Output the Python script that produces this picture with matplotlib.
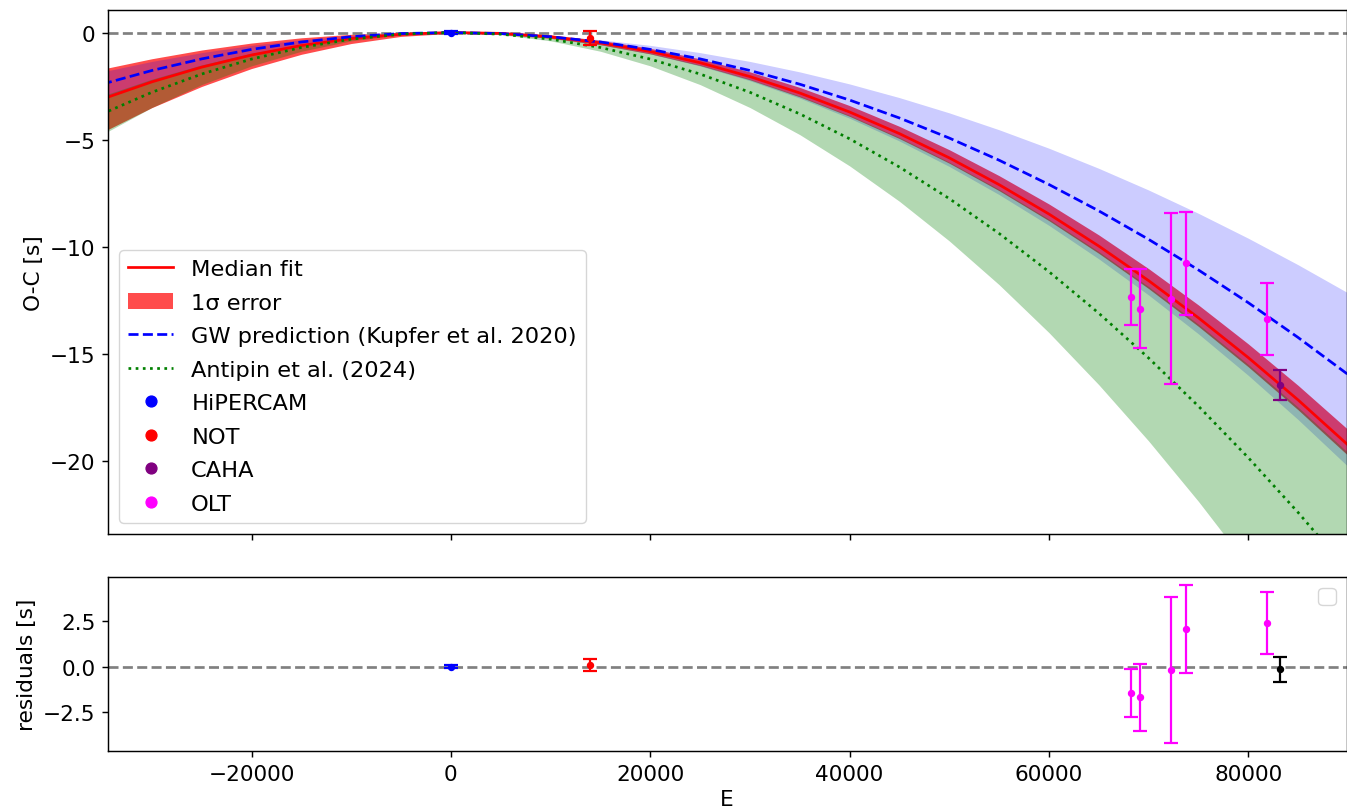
import matplotlib
matplotlib.use('Agg')
import matplotlib.pyplot as plt
from matplotlib.lines import Line2D
from matplotlib.patches import Patch

# ---------------- data ----------------
E_grid = [-35000, -30000, -25000, -20000, -15000, -10000, -5000, 0, 5000, 10000,
          15000, 20000, 25000, 30000, 35000, 40000, 45000, 50000, 55000, 60000,
          65000, 70000, 75000, 80000, 85000, 90000]

median_fit = [-3.111, -2.304, -1.617, -1.051, -0.607, -0.284, -0.081, 0.0, -0.040, -0.201,
              -0.483, -0.886, -1.410, -2.056, -2.822, -3.710, -4.719, -5.849, -7.100, -8.471,
              -9.965, -11.579, -13.314, -15.171, -17.148, -19.246]
median_hi = [-1.711, -1.224, -0.817, -0.491, -0.247, -0.084, 0.009, 0.04, 0.020, -0.111,
             -0.363, -0.736, -1.230, -1.836, -2.562, -3.410, -4.379, -5.469, -6.680, -8.001,
             -9.445, -11.019, -12.714, -14.531, -16.468, -18.526]
median_lo = [-4.661, -3.504, -2.517, -1.681, -1.017, -0.514, -0.181, -0.04, -0.090, -0.271,
             -0.573, -0.996, -1.540, -2.206, -3.002, -3.910, -4.949, -6.099, -7.380, -8.781,
             -10.305, -11.949, -13.714, -15.601, -17.608, -19.736]

gw_pred = [-2.413, -1.773, -1.231, -0.788, -0.443, -0.197, -0.049, 0.0, -0.049, -0.197,
           -0.443, -0.788, -1.231, -1.773, -2.413, -3.152, -3.989, -4.925, -5.959, -7.092,
           -8.323, -9.653, -11.081, -12.608, -14.233, -15.957]
gw_hi = [-1.838, -1.35, -0.938, -0.6, -0.338, -0.15, -0.038, 0.0, -0.038, -0.15,
         -0.338, -0.6, -0.938, -1.35, -1.838, -2.4, -3.038, -3.75, -4.538, -5.4,
         -6.338, -7.35, -8.438, -9.6, -10.838, -12.15]
gw_lo = [-3.063, -2.25, -1.563, -1.0, -0.563, -0.25, -0.063, 0.0, -0.063, -0.25,
         -0.563, -1.0, -1.563, -2.25, -3.063, -4.0, -5.063, -6.25, -7.563, -9.0,
         -10.563, -12.25, -14.063, -16.0, -18.063, -20.25]

antipin = [-3.798, -2.79, -1.938, -1.24, -0.698, -0.31, -0.078, 0.0, -0.078, -0.31,
           -0.698, -1.24, -1.938, -2.79, -3.798, -4.96, -6.278, -7.75, -9.378, -11.16,
           -13.098, -15.19, -17.438, -19.84, -22.398, -25.11]
antipin_hi = [-2.965, -2.178, -1.513, -0.968, -0.545, -0.242, -0.061, 0.0, -0.061, -0.242,
              -0.545, -0.968, -1.513, -2.178, -2.965, -3.872, -4.901, -6.050, -7.321, -8.712,
              -10.225, -11.858, -13.613, -15.488, -17.485, -19.602]
antipin_lo = [-4.765, -3.501, -2.431, -1.556, -0.875, -0.389, -0.097, 0.0, -0.097, -0.389,
              -0.875, -1.556, -2.431, -3.501, -4.765, -6.224, -7.877, -9.725, -11.767, -14.004,
              -16.435, -19.061, -21.881, -24.896, -28.103, -31.509]

hip_E = [0]
hip_oc = [0.0]
hip_err = [0.08]
hip_res = [0.0]

not_E = [14000]
not_oc = [-0.26]
not_err = [0.32]
not_res = [0.09]

caha_E = [83170]
caha_oc = [-16.47]
caha_err = [0.70]
caha_res = [-0.15]

olt_E = [68220, 69090, 72230, 73770, 81830]
olt_oc = [-12.36, -12.88, -12.42, -10.76, -13.38]
olt_err = [1.31, 1.85, 3.98, 2.40, 1.69]
olt_res = [-1.43, -1.68, -0.16, 2.03, 2.39]

legend_labels = ["Median fit", "1σ error", "GW prediction (Kupfer et al. 2020)",
                 "Antipin et al. (2024)", "HiPERCAM", "NOT", "CAHA", "OLT"]

# ---------------- style ----------------
S = 1.3
plt.rcParams.update({
    'font.size': 15.6,
    'lines.linewidth': 1.5 * S,
    'axes.linewidth': 0.8 * S,
    'xtick.major.size': 3.5 * S,
    'ytick.major.size': 3.5 * S,
    'xtick.major.width': 0.8 * S,
    'ytick.major.width': 0.8 * S,
    'xtick.major.pad': 3.5 * S,
    'ytick.major.pad': 3.5 * S,
})

W, H = 1347, 812
fig = plt.figure(figsize=(W / 100, H / 100), dpi=100)
ax1 = fig.add_axes([108 / W, (H - 535) / H, (1346.5 - 108) / W, 524 / H])
ax2 = fig.add_axes([108 / W, (H - 752) / H, (1346.5 - 108) / W, 174 / H], sharex=ax1)

# bands
ax1.fill_between(E_grid, median_lo, median_hi, color='red', alpha=0.7, lw=0, zorder=1)
ax1.fill_between(E_grid, gw_lo, gw_hi, color='blue', alpha=0.2, lw=0, zorder=1.1)
ax1.fill_between(E_grid, antipin_lo, antipin_hi, color='green', alpha=0.3, lw=0, zorder=1.2)

ax1.axhline(0, color='gray', ls='--', lw=1.5 * S, zorder=1.5)
ax1.plot(E_grid, median_fit, color='red', zorder=2)
ax1.plot(E_grid, gw_pred, color='blue', ls='--', zorder=2.1)
ax1.plot(E_grid, antipin, color='green', ls=':', zorder=2.2)

eb = dict(fmt='o', ms=4.3, capsize=4.8, elinewidth=1.6, capthick=1.6, zorder=3)
ax1.errorbar(hip_E, hip_oc, yerr=hip_err, color='blue', **eb)
ax1.errorbar(not_E, not_oc, yerr=not_err, color='red', **eb)
ax1.errorbar(caha_E, caha_oc, yerr=caha_err, color='purple', **eb)
ax1.errorbar(olt_E, olt_oc, yerr=olt_err, color='magenta', **eb)

handles = [
    Line2D([], [], color='red'),
    Patch(facecolor='red', alpha=0.7, lw=0),
    Line2D([], [], color='blue', ls='--'),
    Line2D([], [], color='green', ls=':'),
    Line2D([], [], color='blue', marker='o', ls='', ms=7.8),
    Line2D([], [], color='red', marker='o', ls='', ms=7.8),
    Line2D([], [], color='purple', marker='o', ls='', ms=7.8),
    Line2D([], [], color='magenta', marker='o', ls='', ms=7.8),
]
ax1.legend(handles, legend_labels, loc='lower left', fontsize=16.2, labelspacing=0.6)
ax1.set_ylabel('O-C [s]')
ax1.set_ylim(-23.4, 1.05)
ax1.set_xlim(-34400, 89850)
ax1.set_yticks([0, -5, -10, -15, -20])
ax1.tick_params(labelbottom=False)

# residuals
ax2.axhline(0, color='gray', ls='--', lw=1.5 * S, zorder=1)
ax2.errorbar(hip_E, hip_res, yerr=hip_err, color='blue', **eb)
ax2.errorbar(not_E, not_res, yerr=not_err, color='red', **eb)
ax2.errorbar(olt_E, olt_res, yerr=olt_err, color='magenta', **eb)
ax2.errorbar(caha_E, caha_res, yerr=caha_err, color='black', **eb)
ax2.legend(handles=[], loc='upper right')
ax2.set_ylim(-4.6, 4.89)
ax2.set_yticks([-2.5, 0.0, 2.5])
ax2.set_ylabel('residuals [s]')
ax2.set_xlabel('E')
ax2.set_xticks([-20000, 0, 20000, 40000, 60000, 80000])

fig.savefig('out.png', dpi=100)
